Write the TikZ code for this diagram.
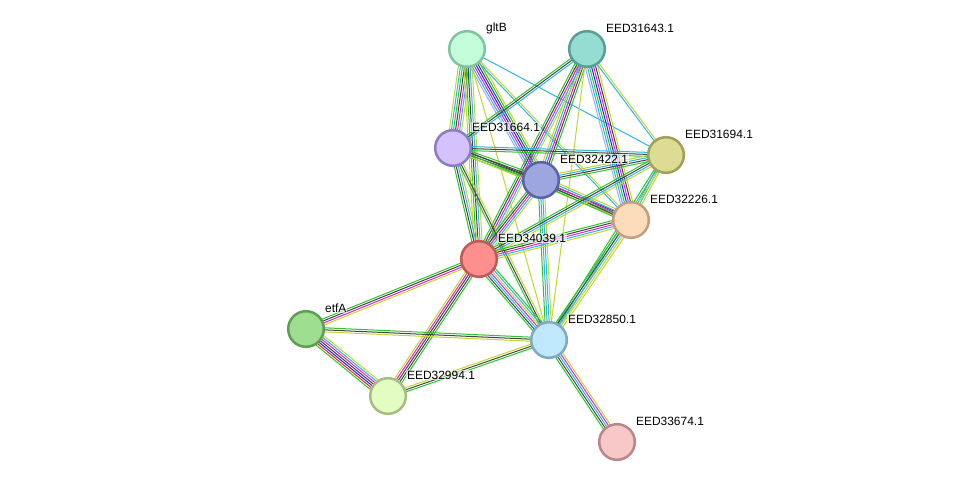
\documentclass[tikz,border=0pt]{standalone}
\usepackage{fontspec}
\setmainfont{Liberation Sans}
\usetikzlibrary{calc,backgrounds}

\definecolor{tmine}{HTML}{C3D62E}
\definecolor{nbhood}{HTML}{2EC42E}
\definecolor{coexp}{HTML}{444444}
\definecolor{dbase}{HTML}{2DB6E2}
\definecolor{expt}{HTML}{E024D4}
\definecolor{cooc}{HTML}{2424F0}
\definecolor{fusion}{HTML}{F02424}
\definecolor{homol}{HTML}{A8A8F8}

% node fill / border colours
\definecolor{gltBf}{HTML}{C2FCD8}    \definecolor{gltBd}{HTML}{7FC6A0}
\definecolor{p31643f}{HTML}{95DDD3}  \definecolor{p31643d}{HTML}{5A9E95}
\definecolor{p31664f}{HTML}{D4C2FC}  \definecolor{p31664d}{HTML}{8E7DC0}
\definecolor{p31694f}{HTML}{DEDC94}  \definecolor{p31694d}{HTML}{A0A05A}
\definecolor{p32422f}{HTML}{9EA6E0}  \definecolor{p32422d}{HTML}{5A62A8}
\definecolor{p32226f}{HTML}{FDDCBC}  \definecolor{p32226d}{HTML}{C0A080}
\definecolor{p34039f}{HTML}{FE8F8F}  \definecolor{p34039d}{HTML}{C05A5A}
\definecolor{etfAf}{HTML}{9EDE91}    \definecolor{etfAd}{HTML}{5E9E55}
\definecolor{p32850f}{HTML}{C0E8FC}  \definecolor{p32850d}{HTML}{80A8C0}
\definecolor{p32994f}{HTML}{E2FCC2}  \definecolor{p32994d}{HTML}{A5BE80}
\definecolor{p33674f}{HTML}{F8C8C8}  \definecolor{p33674d}{HTML}{B88888}

% one evidence line per colour, side by side
\newcommand\bundle[3]{%
  \foreach \c [count=\n] in {#3} {\global\let\bundlen\n}%
  \foreach \c [count=\i] in {#3} {%
    \pgfmathsetmacro\off{(\i-(\bundlen+1)/2)*1.45}%
    \draw[chan, \c] ($(#1)!\off pt!90:(#2)$) -- ($(#2)!\off pt!-90:(#1)$);
  }%
}

\tikzset{
  prot/.style={circle, line width=1.8pt, minimum size=0.89cm, inner sep=0pt,
    fill=#1f, draw=#1d},
  lbl/.style={anchor=west, inner sep=0.6pt, fill=white, fill opacity=0.6, text opacity=1,
    font=\fontsize{8.5}{10}\selectfont},
  chan/.style={line width=0.72pt},
}

\begin{document}
\begin{tikzpicture}[x=0.025cm, y=-0.025cm]
    \useasboundingbox (0,0) rectangle (976,488);

    \node[prot=gltB] (gltB) at (467,49) {};
    \node[prot=p31643] (p31643) at (587,49) {};
    \node[prot=p31664] (p31664) at (453,148) {};
    \node[prot=p31694] (p31694) at (666,155) {};
    \node[prot=p32422] (p32422) at (541,180) {};
    \node[prot=p32226] (p32226) at (631,220) {};
    \node[prot=p34039] (p34039) at (479,259) {};
    \node[prot=etfA] (etfA) at (306,329) {};
    \node[prot=p32850] (p32850) at (549,340) {};
    \node[prot=p32994] (p32994) at (388,396) {};
    \node[prot=p33674] (p33674) at (617,442) {};

    \node[lbl] (gltBl) at ($(gltB)+(18,-21)$) {gltB};
    \node[lbl] (p31643l) at ($(p31643)+(18,-21)$) {EED31643.1};
    \node[lbl] (p31664l) at ($(p31664)+(18,-21)$) {EED31664.1};
    \node[lbl] (p31694l) at ($(p31694)+(18,-21)$) {EED31694.1};
    \node[lbl] (p32422l) at ($(p32422)+(18,-21)$) {EED32422.1};
    \node[lbl] (p32226l) at ($(p32226)+(18,-21)$) {EED32226.1};
    \node[lbl] (p34039l) at ($(p34039)+(18,-21)$) {EED34039.1};
    \node[lbl] (etfAl) at ($(etfA)+(18,-21)$) {etfA};
    \node[lbl] (p32850l) at ($(p32850)+(18,-21)$) {EED32850.1};
    \node[lbl] (p32994l) at ($(p32994)+(18,-21)$) {EED32994.1};
    \node[lbl] (p33674l) at ($(p33674)+(18,-21)$) {EED33674.1};

    \begin{pgfonlayer}{background}
    \bundle{gltB}{p31664}{tmine,dbase,nbhood,coexp,expt,dbase,tmine}
    \bundle{gltB}{p34039}{tmine,nbhood,coexp,dbase,tmine}
    \bundle{gltB}{p32422}{homol,dbase,expt,cooc,coexp,nbhood,tmine}
    \bundle{gltB}{p32226}{dbase,tmine}
    \bundle{gltB}{p31694}{dbase}
    \bundle{gltB}{p32850}{tmine}
    \bundle{p31643}{p31664}{nbhood,coexp,dbase}
    \bundle{p31643}{p32422}{tmine,dbase,expt,coexp,nbhood}
    \bundle{p31643}{p34039}{nbhood,coexp,expt,dbase,tmine}
    \bundle{p31643}{p32226}{homol,dbase,nbhood,cooc,expt,coexp,tmine}
    \bundle{p31643}{p31694}{dbase,tmine}
    \bundle{p31643}{p32850}{tmine}
    \bundle{p31664}{p32422}{nbhood,coexp,coexp,nbhood}
    \bundle{p31664}{p31694}{nbhood,coexp,dbase}
    \bundle{p31664}{p32226}{tmine,nbhood,coexp}
    \bundle{p31664}{p34039}{nbhood,coexp,dbase,tmine}
    \bundle{p31664}{p32850}{nbhood,coexp,tmine}
    \bundle{p32422}{p31694}{nbhood,coexp,dbase,tmine}
    \bundle{p32422}{p32226}{nbhood,coexp,expt,dbase,tmine}
    \bundle{p32422}{p34039}{nbhood,coexp,expt,dbase,tmine}
    \bundle{p32422}{p32850}{nbhood,dbase,dbase,tmine}
    \bundle{p31694}{p32226}{nbhood,dbase,tmine}
    \bundle{p31694}{p34039}{nbhood,coexp,dbase,tmine}
    \bundle{p31694}{p32850}{nbhood,dbase,tmine}
    \bundle{p32226}{p34039}{nbhood,coexp,expt,dbase,tmine}
    \bundle{p32226}{p32850}{nbhood,coexp,dbase,tmine,tmine}
    \bundle{p34039}{etfA}{nbhood,coexp,expt,tmine}
    \bundle{p34039}{p32994}{tmine,expt,coexp,coexp,nbhood}
    \bundle{p34039}{p32850}{nbhood,coexp,dbase,expt,tmine,dbase,nbhood}
    \bundle{etfA}{p32850}{tmine,coexp,nbhood}
    \bundle{etfA}{p32994}{nbhood,fusion,cooc,coexp,expt,dbase,tmine}
    \bundle{p32994}{p32850}{nbhood,coexp,tmine}
    \bundle{p32850}{p33674}{nbhood,coexp,dbase,expt,tmine}
    \end{pgfonlayer}
\end{tikzpicture}
\end{document}
